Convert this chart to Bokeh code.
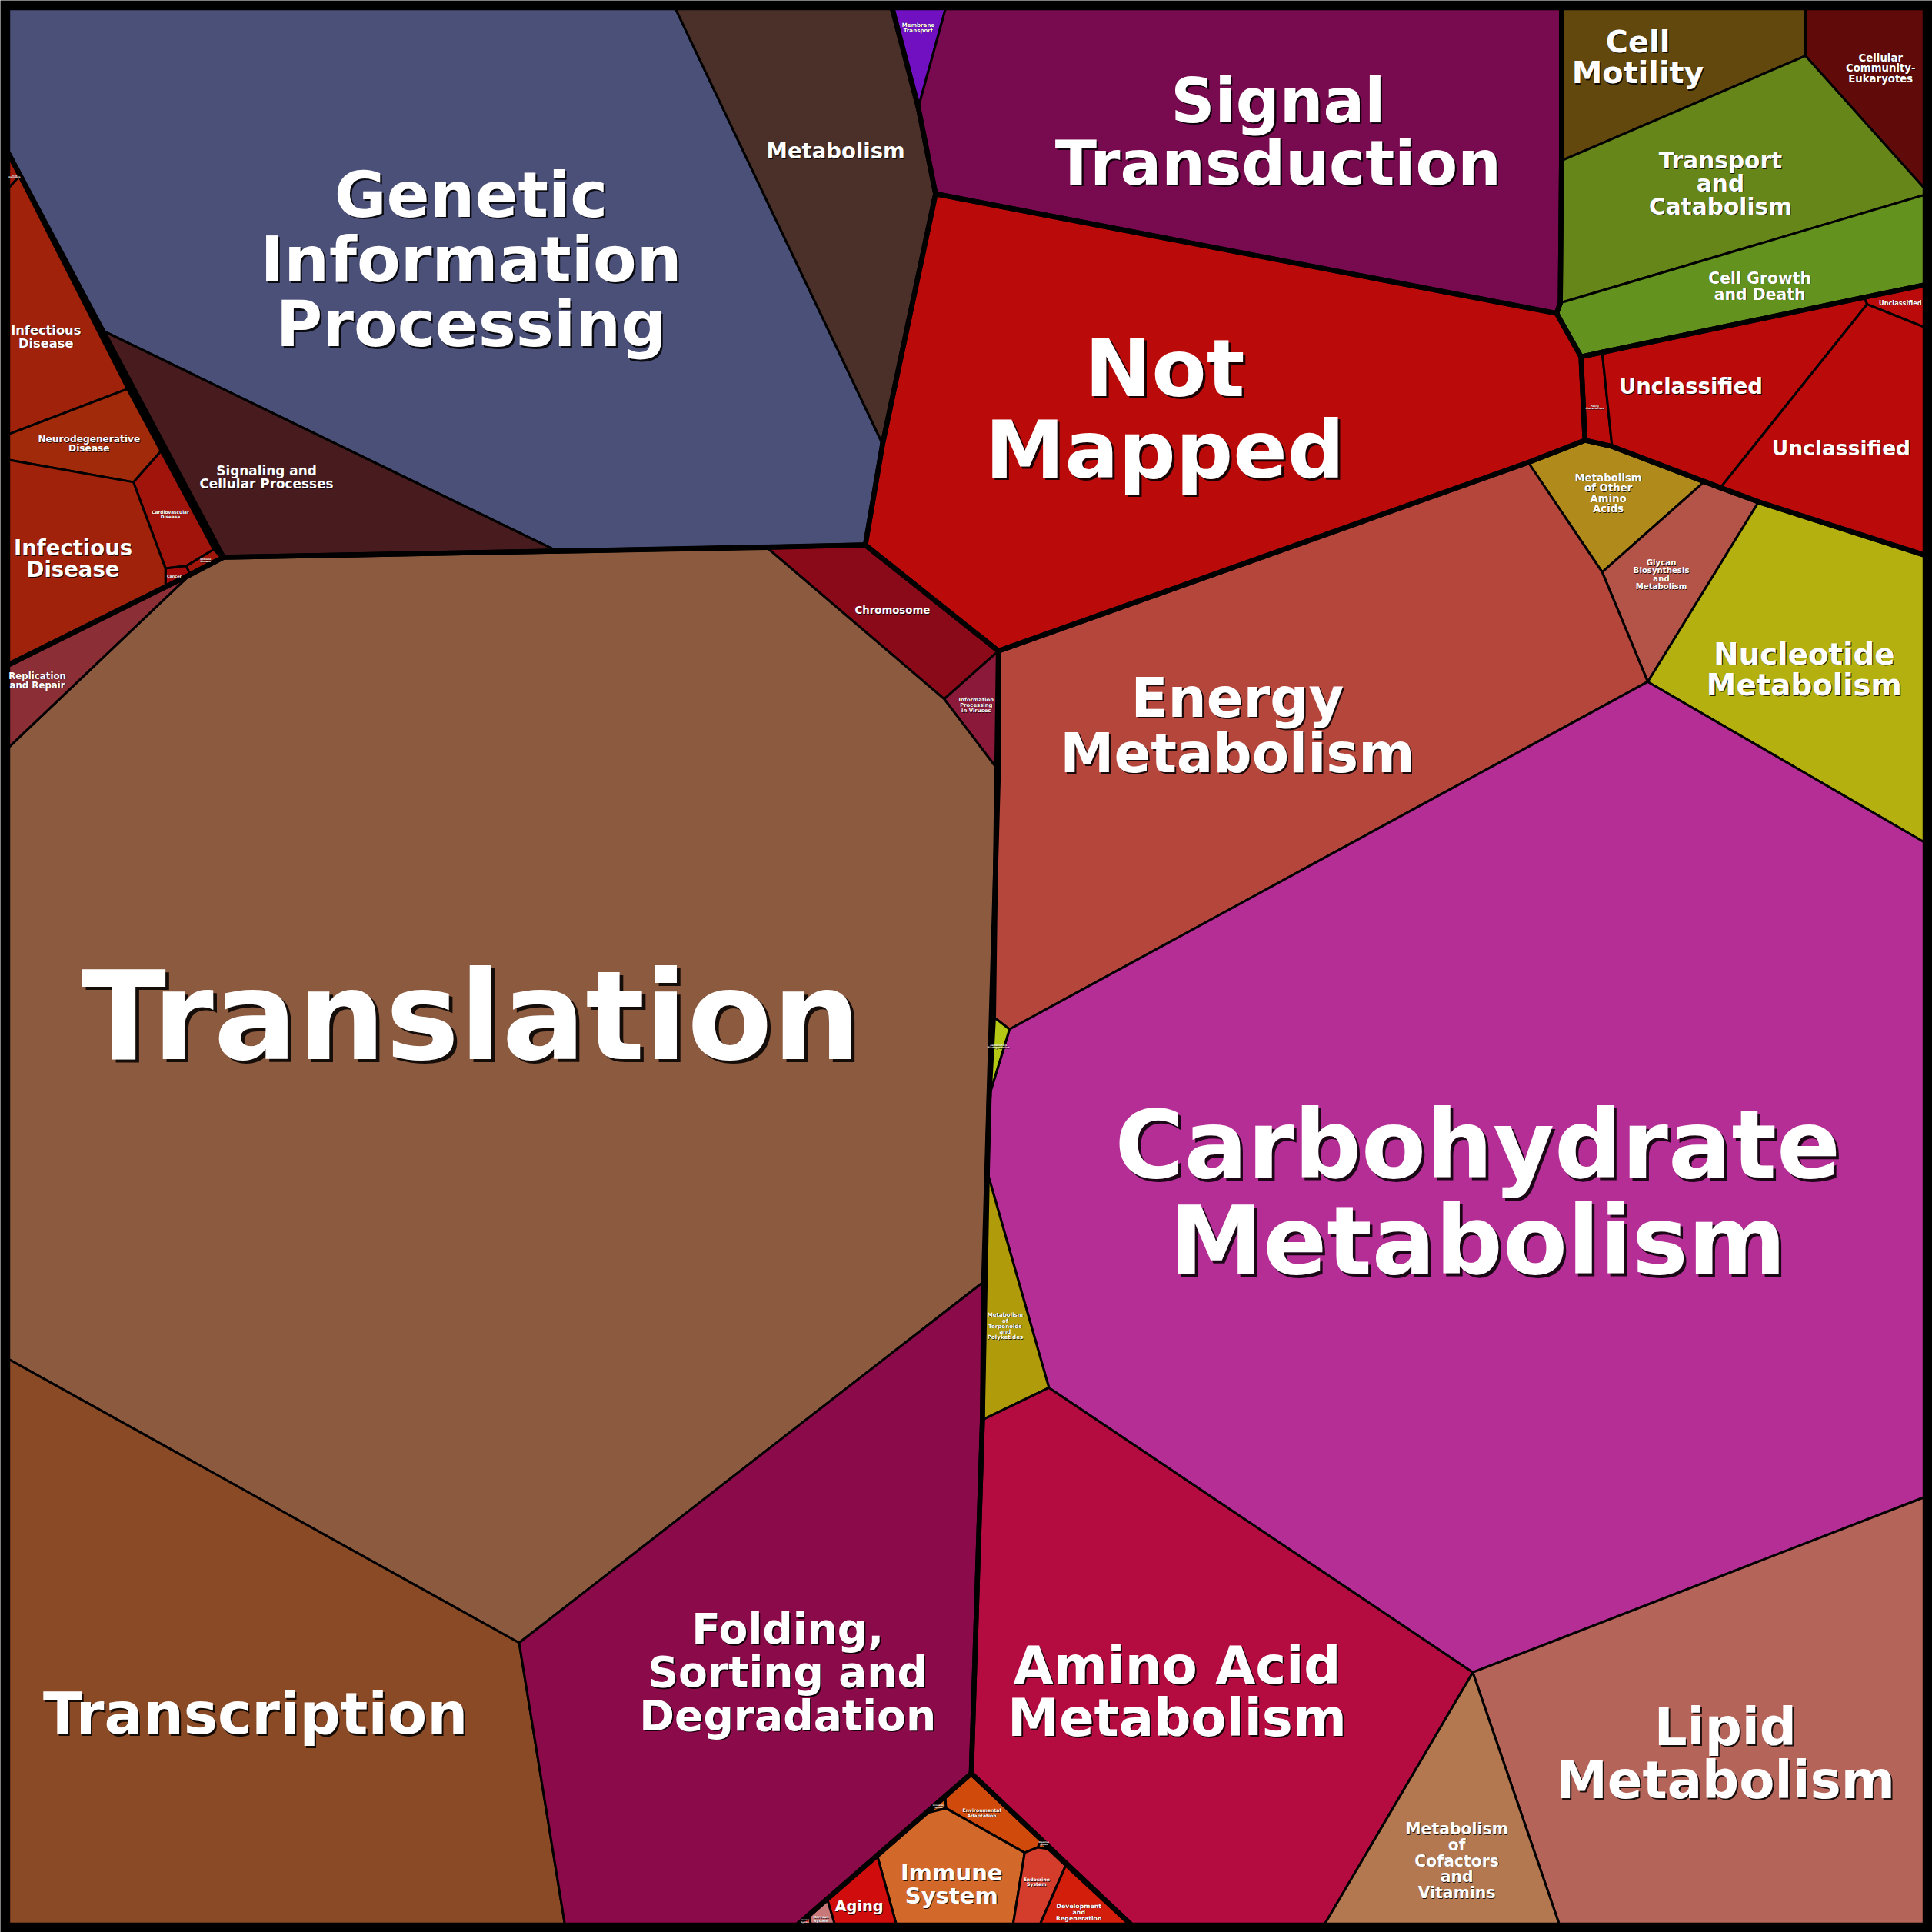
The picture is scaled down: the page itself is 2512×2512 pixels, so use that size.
from collections import Counter
from bokeh.plotting import figure
from bokeh.models import Range1d, ColumnDataSource
from bokeh.embed import file_html
from bokeh.resources import INLINE
from bokeh.core.properties import value, field

# ---------------- layout vertices of the Voronoi treemap (reference units) ----------------
PTS = {
    "TL": (7, 7), "TR": (1561, 7), "BL": (7, 1561), "BR": (1561, 1561),
    "t1": (548, 7), "t2": (724, 7), "t3": (767, 7), "t4": (1267, 7), "t5": (1465, 7),
    "r1": (1561, 152), "r2": (1561, 158), "r3": (1561, 231), "r4": (1561, 265),
    "r5": (1561, 450), "r6": (1561, 683), "r7": (1561, 1215),
    "b1": (1265, 1561), "b2": (1075, 1561), "b3": (917, 1561), "b4": (844, 1561),
    "b5": (822, 1561), "b6": (727, 1561), "b7": (677, 1561), "b8": (657.5, 1561),
    "b9": (648, 1561), "b10": (458, 1561),
    "l1": (7, 125), "l2": (7, 152), "l3": (7, 352), "l4": (7, 373), "l5": (7, 539),
    "l6": (7, 606), "l7": (7, 1103),
    "a1": (716, 360), "a2": (702, 442), "a3": (452, 447), "a4": (83, 268), "a5": (181, 452),
    "e1": (745, 87), "e2": (759, 157),
    "c1": (1465, 45), "c2": (1267, 130), "c3": (1266, 245.5), "c4": (1263, 254),
    "c5": (1282.8, 289.2), "c6": (1300, 285.6), "c7": (1512.5, 241), "c8": (1515, 246.6),
    "u1": (1286, 357), "u2": (1308, 362), "g1": (1383, 390.5), "u3": (1396, 395.5),
    "u4": (1427, 407),
    "m1": (1240, 375), "m2": (1300, 464), "m3": (1337, 553), "m4": (819, 835),
    "m5": (806, 825), "m6": (802.5, 889), "m7": (801, 951), "m8": (851, 1126),
    "m9": (797, 1152), "m10": (1195, 1357),
    "n1": (810, 528), "ga": (622, 444), "gc": (766, 567), "gd": (810, 625),
    "te": (798, 1040), "tf": (421, 1333),
    "dr": (154, 466), "k1": (131, 365), "k2": (108, 391), "k3": (134, 461),
    "k4": (151, 459), "k5": (174, 445), "k7": (134, 476),
    "tt": (16, 142), "na": (104, 315),
    "o1": (788, 1439), "o2": (766.7, 1457.6), "o3": (767.4, 1467.3), "o4": (751, 1471.2),
    "o5": (831.3, 1503.3), "o6": (845, 1492.9), "o7": (852, 1500.5), "o9": (842, 1499),
    "o10": (865, 1512.8), "o11": (711.6, 1505.5), "o12": (671, 1540.9), "o13": (656.5, 1553.6),
}

# ---------------- cells: name, top-level group, colour, outline ----------------
cell_names = [
    "Genetic Information Processing", "Metabolism", "Signaling and Cellular Processes",
    "Membrane Transport", "Signal Transduction", "Not Mapped",
    "Cell Motility", "Cellular Community-Eukaryotes", "Transport and Catabolism", "Cell Growth and Death",
    "Unclassified (small)", "Poorly Characterized", "Unclassified (a)", "Unclassified (b)",
    "Metabolism of Other Amino Acids", "Glycan Biosynthesis and Metabolism", "Nucleotide Metabolism",
    "Energy Metabolism", "Carbohydrate Metabolism", "Xenobiotics Biodegradation and Metabolism",
    "Metabolism of Terpenoids and Polyketides", "Amino Acid Metabolism", "Lipid Metabolism",
    "Metabolism of Cofactors and Vitamins",
    "Chromosome", "Information Processing in Viruses", "Translation", "Replication and Repair",
    "Transcription", "Folding, Sorting and Degradation",
    "Drug Resistance", "Infectious Disease (a)", "Neurodegenerative Disease", "Cardiovascular Disease",
    "Cancer", "Immune Disease", "Infectious Disease (b)",
    "Environmental Adaptation", "Circulatory System", "Digestive System", "Immune System", "Aging",
    "Nervous System", "Sensory System", "Endocrine System", "Development and Regeneration",
]
cell_groups = [
    "top", "top", "top",
    "env", "env", "nm",
    "cell", "cell", "cell", "cell",
    "unc", "unc", "unc", "unc",
    "met", "met", "met", "met", "met", "met", "met", "met", "met", "met",
    "gen", "gen", "gen", "gen", "gen", "gen",
    "dis", "dis", "dis", "dis", "dis", "dis", "dis",
    "org", "org", "org", "org", "org", "org", "org", "org", "org",
]
cell_colors = [
    "#4B5079", "#4A3028", "#481C1E",
    "#7010C0", "#780A50", "#BA0A0A",
    "#62480C", "#600A0A", "#66861A", "#64921E",
    "#BA0A0A", "#BA0A0A", "#BA0A0A", "#BA0A0A",
    "#B08A1A", "#B45448", "#B4B010", "#B4463C", "#B42E96", "#B4C814",
    "#B09C0A", "#B40C40", "#B46458", "#B47850",
    "#8B0A1A", "#8B1A3A", "#8B5A3F", "#8B2E36", "#8B4A26", "#8B0A4A",
    "#A0180A", "#A0220A", "#A02A0A", "#A0140C", "#A00A0A", "#A0160A", "#A0220A",
    "#D04A0C", "#D06014", "#D05010", "#D2682A", "#D00C0C", "#C87878", "#D01010",
    "#D43C2C", "#D21E0A",
]
cell_outlines = [
    ["TL", "t1", "a1", "a2", "a3", "a4", "l1"],
    ["t1", "t2", "e1", "e2", "a1"],
    ["a4", "a3", "a5"],
    ["t2", "t3", "e1"],
    ["t3", "t4", "c2", "c3", "c4", "e2", "e1"],
    ["e2", "c4", "c5", "u1", "m1", "n1", "a2", "a1"],
    ["t4", "t5", "c1", "c2"],
    ["t5", "TR", "r1", "c1"],
    ["c2", "c1", "r1", "r2", "c3"],
    ["c3", "r2", "r3", "c7", "c6", "c5", "c4"],
    ["c7", "r3", "r4", "c8"],
    ["c5", "c6", "u2", "u1"],
    ["c6", "c7", "c8", "u3", "u2"],
    ["c8", "r4", "r5", "u4", "u3"],
    ["m1", "u1", "u2", "g1", "m2"],
    ["g1", "u3", "u4", "m3", "m2"],
    ["u4", "r5", "r6", "m3"],
    ["n1", "m1", "m2", "m3", "m4", "m5"],
    ["m4", "m3", "r6", "r7", "m10", "m8", "m7", "m6"],
    ["m5", "m4", "m6"],
    ["m7", "m8", "m9"],
    ["m9", "m8", "m10", "b2", "b3", "o1"],
    ["m10", "r7", "BR", "b1"],
    ["m10", "b1", "b2"],
    ["ga", "a2", "n1", "gc"],
    ["gc", "n1", "gd"],
    ["dr", "a5", "a3", "ga", "gc", "gd", "te", "tf", "l7", "l6"],
    ["l5", "dr", "l6"],
    ["l7", "tf", "b10", "BL"],
    ["tf", "te", "m9", "o1", "b9", "b10"],
    ["l1", "tt", "l2"],
    ["l2", "tt", "na", "l3"],
    ["l3", "na", "k1", "k2", "l4"],
    ["k1", "k5", "k4", "k3", "k2"],
    ["k3", "k4", "dr", "k7"],
    ["k4", "k5", "a5", "dr"],
    ["l4", "k2", "k3", "k7", "l5"],
    ["o1", "o2", "o3", "o5", "o9", "o6"],
    ["o2", "o4", "o3"],
    ["o6", "o9", "o7"],
    ["o4", "o3", "o5", "b5", "b6", "o11"],
    ["o11", "b6", "b7", "o12"],
    ["o12", "b7", "b8", "o13"],
    ["o13", "b8", "b9"],
    ["o5", "o9", "o7", "o10", "b4", "b5"],
    ["o10", "b3", "b4"],
]

# ---------------- labels: text, anchor, font size (px) ----------------
label_texts = [
    "Genetic\nInformation\nProcessing", "Metabolism", "Signaling and\nCellular Processes",
    "Membrane\nTransport", "Signal\nTransduction", "Not\nMapped",
    "Cell\nMotility", "Cellular\nCommunity-\nEukaryotes", "Transport\nand\nCatabolism",
    "Cell Growth\nand Death",
    "Unclassified", "Poorly\nCharacterized", "Unclassified", "Unclassified",
    "Metabolism\nof Other\nAmino\nAcids", "Glycan\nBiosynthesis\nand\nMetabolism",
    "Nucleotide\nMetabolism", "Energy\nMetabolism", "Carbohydrate\nMetabolism",
    "Xenobiotics\nBiodegradation",
    "Metabolism\nof\nTerpenoids\nand\nPolyketides", "Amino Acid\nMetabolism", "Lipid\nMetabolism",
    "Metabolism\nof\nCofactors\nand\nVitamins",
    "Chromosome", "Information\nProcessing\nin Viruses", "Translation", "Replication\nand Repair",
    "Transcription", "Folding,\nSorting and\nDegradation",
    "Drug\nResistance", "Infectious\nDisease", "Neurodegenerative\nDisease", "Cardiovascular\nDisease",
    "Cancer", "Immune\nDisease", "Infectious\nDisease",
    "Environmental\nAdaptation", "Circulatory\nSystem", "Digestive\nSystem", "Immune\nSystem", "Aging",
    "Nervous\nSystem", "Sensory\nSystem", "Endocrine\nSystem", "Development\nand\nRegeneration",
]
label_x = [382, 678, 216, 745, 1037, 945, 1329, 1526, 1396, 1428, 1542, 1294, 1372, 1494,
           1305, 1348, 1464, 1004, 1199, 810, 815.5, 955, 1400, 1182,
           724, 792, 382, 30, 207, 639,
           11.5, 37, 72, 138, 141, 166.5, 59,
           796.5, 761.5, 847, 772, 697, 666, 653, 841, 875.3]
label_y = [210, 122, 387, 22, 107, 332, 46, 55, 149, 232, 245.5, 330, 313, 363,
           400, 466, 543, 589, 968, 849, 1076, 1373, 1423, 1510,
           495, 572, 824, 552, 1391, 1357,
           143, 273, 360, 417, 467, 454.5, 453,
           1471, 1466, 1496, 1529, 1547, 1557, 1559, 1527, 1551.6]
label_size = [81, 27, 16.6, 7, 78, 102, 39, 13, 29, 20, 8, 3, 27, 26,
              13, 10, 38, 69, 120, 3.2, 7, 66, 66, 20,
              13, 6.8, 158, 11.6, 73, 54,
              2.5, 16, 12, 5.7, 4.8, 3, 27,
              6, 2.5, 2.5, 28.5, 19, 4.2, 2.5, 6, 7.6]

PX_PER_UNIT = 2512 / 1568.0
W = 2512
FONT_SCALE = 1.02

p = figure(width=W, height=W, output_backend="svg", toolbar_location=None,
           x_range=Range1d(0, 1568), y_range=Range1d(1568, 0),
           min_border=0, x_axis_location=None, y_axis_location=None,
           background_fill_color="black", border_fill_color="black", outline_line_color=None)
p.grid.visible = False

# cells
xs = [[PTS[k][0] for k in o] for o in cell_outlines]
ys = [[PTS[k][1] for k in o] for o in cell_outlines]
p.patches(xs=xs, ys=ys, fill_color=cell_colors, line_color="black", line_width=3,
          line_join="round")

# thick outlines of the top-level groups (edges used by only one cell of a group)
def on_frame(a, b):
    (x1, y1), (x2, y2) = PTS[a], PTS[b]
    return (x1 == x2 and x1 in (7, 1561)) or (y1 == y2 and y1 in (7, 1561))

bx, by = [], []
for g in sorted(set(cell_groups)):
    cnt = Counter()
    for grp, o in zip(cell_groups, cell_outlines):
        if grp != g:
            continue
        for i in range(len(o)):
            a, b = o[i], o[(i + 1) % len(o)]
            cnt[frozenset((a, b))] += 1
    for e, c in cnt.items():
        if c == 1:
            a, b = tuple(e)
            if on_frame(a, b):
                continue
            bx.append([PTS[a][0], PTS[b][0]])
            by.append([PTS[a][1], PTS[b][1]])
p.multi_line(xs=bx, ys=by, line_color="black", line_width=6.5, line_cap="round")

# labels (one glyph row per text line, with a dark drop shadow)
rows = {"x": [], "y": [], "t": [], "fs": [], "off": []}
for txt, cx, cy, sz in zip(label_texts, label_x, label_y, label_size):
    lines = txt.split("\n")
    n = len(lines)
    step = 1.04 * sz / PX_PER_UNIT
    for i, ln in enumerate(lines):
        rows["x"].append(cx)
        rows["y"].append(cy + (i - (n - 1) / 2.0) * step)
        rows["t"].append(ln)
        rows["fs"].append("%.1fpx" % (sz * FONT_SCALE))
        rows["off"].append(max(0.6, sz * 0.03))
src = ColumnDataSource(rows)
p.text(x="x", y="y", text="t", source=src, text_font=value("DejaVu Sans"), text_font_style="bold",
       text_font_size=field("fs"), text_align="center", text_baseline="middle",
       text_color="black", text_alpha=0.85, x_offset=field("off"), y_offset=field("off"))
p.text(x="x", y="y", text="t", source=src, text_font=value("DejaVu Sans"), text_font_style="bold",
       text_font_size=field("fs"), text_align="center", text_baseline="middle",
       text_color="white")

open("out.html", "w").write(file_html(p, INLINE))
